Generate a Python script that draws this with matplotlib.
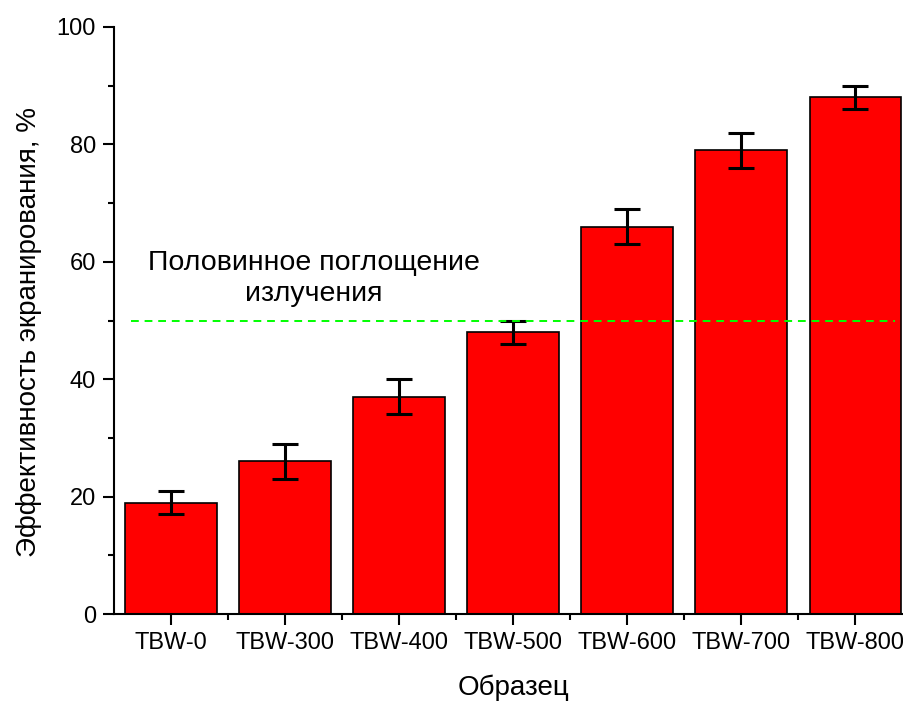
import matplotlib
matplotlib.use("Agg")
import matplotlib.pyplot as plt
import numpy as np
from matplotlib.ticker import MultipleLocator

plt.rcParams['font.family'] = ['Liberation Sans', 'DejaVu Sans']

# data
samples = ['TBW-0', 'TBW-300', 'TBW-400', 'TBW-500', 'TBW-600', 'TBW-700', 'TBW-800']
efficiency = [19, 26, 37, 48, 66, 79, 88]
errors = [2, 3, 3, 2, 3, 3, 2]
half_level = 50

fig = plt.figure(figsize=(9.04, 7.01), dpi=100)
ax = fig.add_axes([0.126, 0.124, 0.883, 0.8375])

x = np.arange(len(samples))
ax.bar(x, efficiency, width=0.8, color='#ff0000', edgecolor='black', linewidth=1.2,
       yerr=errors, capsize=9.5, error_kw=dict(elinewidth=2.2, capthick=2.2, ecolor='black'))

# half absorption reference line
ax.plot([-0.35, 6.35], [half_level, half_level], color='#00ff00', linestyle=(0, (4, 3)), linewidth=1.4)
ax.text(1.25, 57.1, "Половинное поглощение\nизлучения", ha='center', va='center',
        fontsize=20.5, linespacing=1.25)

ax.set_xlim(-0.5, 6.5)
ax.set_ylim(0, 100)
ax.set_xticks(x)
ax.set_xticklabels(samples)
ax.set_xticks(x[:-1] + 0.5, minor=True)
ax.yaxis.set_major_locator(MultipleLocator(20))
ax.yaxis.set_minor_locator(MultipleLocator(10))

ax.spines['top'].set_visible(False)
ax.spines['right'].set_visible(False)
ax.spines['left'].set_linewidth(1.5)
ax.spines['bottom'].set_linewidth(1.5)
ax.tick_params(which='major', direction='out', length=8, width=1.5, labelsize=17, pad=5)
ax.tick_params(which='minor', direction='out', length=4, width=1.5)

ax.set_ylabel("Эффективность экранирования, %", fontsize=20)
ax.yaxis.set_label_coords(-0.09, 0.48)
ax.set_xlabel("Образец", fontsize=20, labelpad=15)

fig.savefig("out.png", dpi=100)
